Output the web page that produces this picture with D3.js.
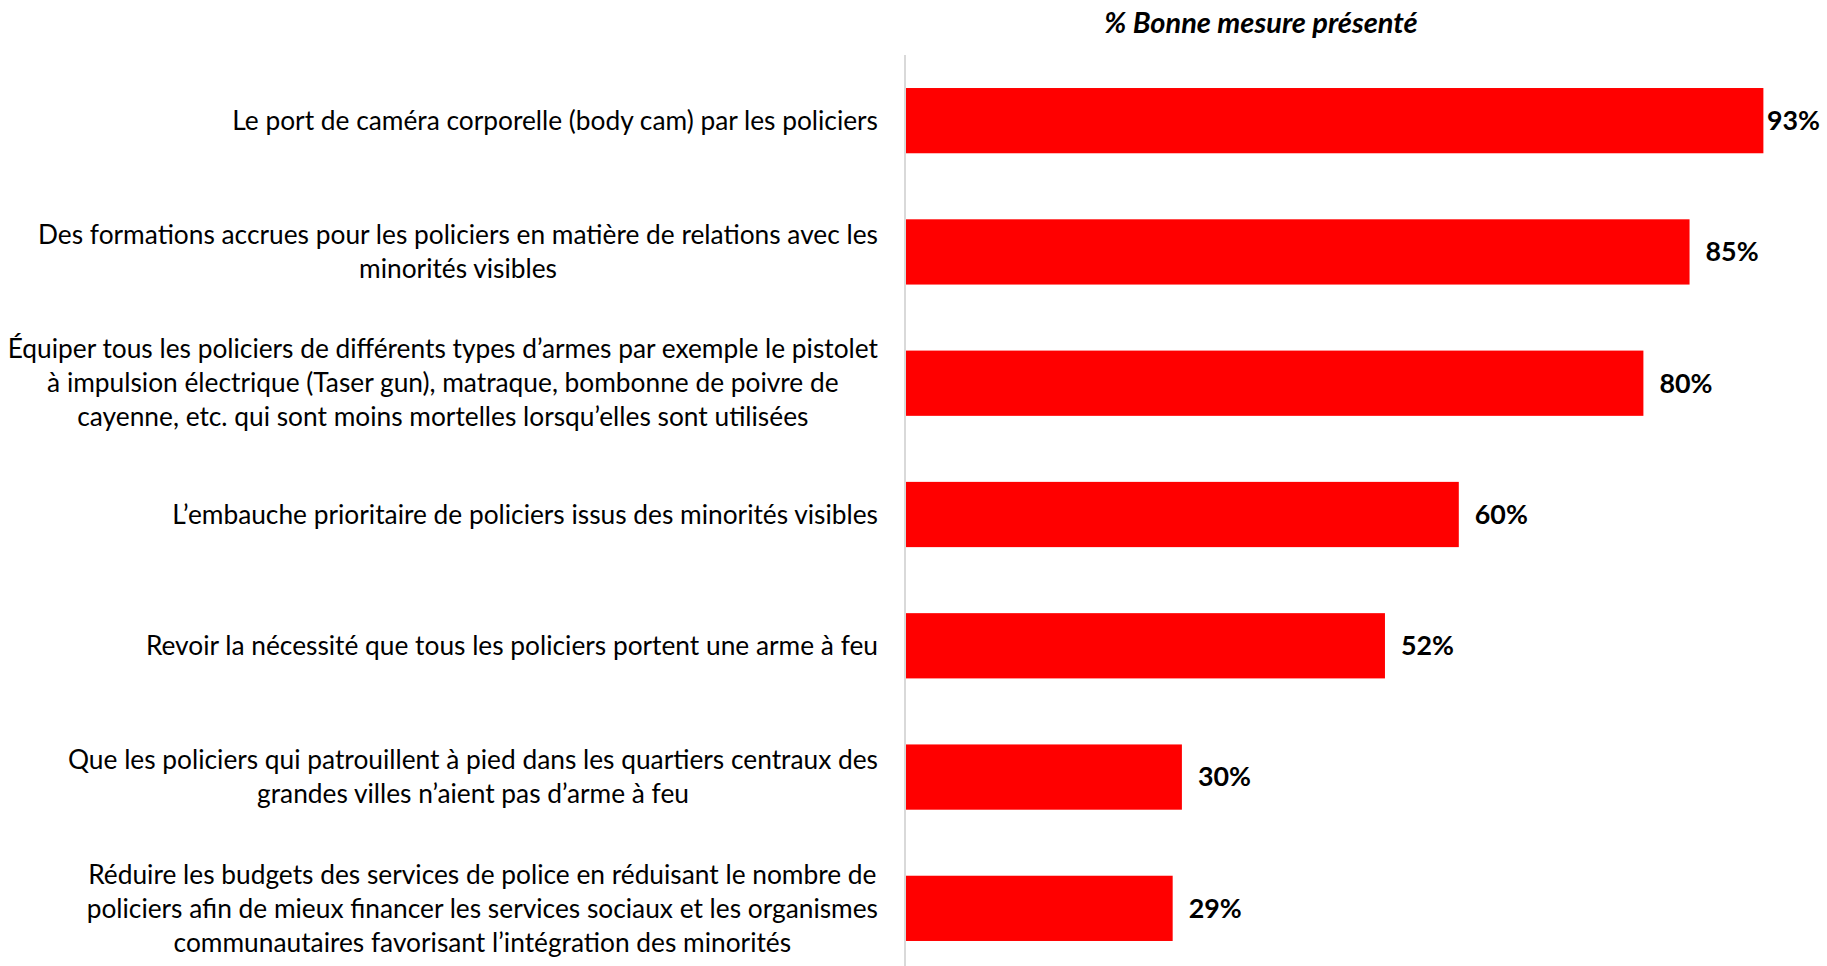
<!DOCTYPE html>
<html lang="fr">
<head>
<meta charset="utf-8">
<title>% Bonne mesure présenté</title>
<script src="https://cdnjs.cloudflare.com/ajax/libs/d3/7.8.5/d3.min.js"></script>
<style>
body { margin: 0; background: #fff; }
svg { display: block; font-family: Lato, "Open Sans", sans-serif; }
.cat { font-size: 26.3px; fill: #000; }
.val { font-size: 26.8px; font-weight: bold; fill: #000; }
.title { font-size: 29px; font-weight: bold; font-style: italic; }
</style>
</head>
<body>
<div id="chart"></div>
<script>

var labels = [
    ["Le port de caméra corporelle (body cam) par les policiers"],
    ["Des formations accrues pour les policiers en matière de relations avec les",
     "minorités visibles"],
    ["Équiper tous les policiers de différents types d’armes par exemple le pistolet",
     "à impulsion électrique (Taser gun), matraque, bombonne de poivre de",
     "cayenne, etc. qui sont moins mortelles lorsqu’elles sont utilisées"],
    ["L’embauche prioritaire de policiers issus des minorités visibles"],
    ["Revoir la nécessité que tous les policiers portent une arme à feu"],
    ["Que les policiers qui patrouillent à pied dans les quartiers centraux des",
     "grandes villes n’aient pas d’arme à feu"],
    ["Réduire les budgets des services de police en réduisant le nombre de",
     "policiers afin de mieux financer les services sociaux et les organismes",
     "communautaires favorisant l’intégration des minorités"]
];
var values = [93, 85, 80, 60, 52, 30, 29];
var title = "% Bonne mesure présenté";

var width = 1827, height = 966;
var axisX = 905;

var svg = d3.select("#chart").append("svg")
    .attr("width", width)
    .attr("height", height);

var x = d3.scaleLinear()
    .domain([0, 100])
    .range([axisX, 1828]);

var y = d3.scaleBand()
    .domain(d3.range(values.length))
    .range([55, 974])
    .paddingInner(0.503)
    .paddingOuter(0.2515);

// title
svg.append("text")
    .attr("class", "title")
    .attr("x", 1261)
    .attr("y", 33)
    .attr("text-anchor", "middle")
    .text(title);

// bars
svg.selectAll(".bar")
    .data(values)
    .enter().append("rect")
        .attr("class", "bar")
        .attr("x", x(0))
        .attr("y", (d, i) => y(i))
        .attr("width", d => x(d) - x(0))
        .attr("height", y.bandwidth())
        .attr("fill", "#ff0000");

// axis line
svg.append("line")
    .attr("x1", axisX).attr("x2", axisX)
    .attr("y1", y.range()[0]).attr("y2", y.range()[1])
    .attr("stroke", "#d9d9d9")
    .attr("stroke-width", 2);

// value labels
svg.selectAll(".val")
    .data(values)
    .enter().append("text")
        .attr("class", "val")
        .attr("y", (d, i) => y(i) + y.bandwidth() / 2)
        .attr("dy", "0.35em")
        .text(d => d + "%")
        .attr("x", function(d) {
            var w = this.getComputedTextLength();
            return Math.min(x(d) + 16, width - 7 - w);
        });

// category labels: block right-aligned, lines centered within block
var lineH = 34;
var rightEdge = 878;
var cat = svg.selectAll(".catg")
    .data(labels)
    .enter().append("g")
        .attr("class", "catg");

cat.each(function(lines, i) {
    var g = d3.select(this);
    var cy = y(i) + y.bandwidth() / 2;
    var t = g.selectAll("text")
        .data(lines)
        .enter().append("text")
            .attr("class", "cat")
            .attr("y", (d, j) => cy + (j - (lines.length - 1) / 2) * lineH)
            .attr("dy", "0.35em")
            .attr("text-anchor", "middle")
            .text(d => d);
    var maxW = d3.max(t.nodes(), n => n.getComputedTextLength());
    t.attr("x", rightEdge - maxW / 2);
});

</script>
</body>
</html>
